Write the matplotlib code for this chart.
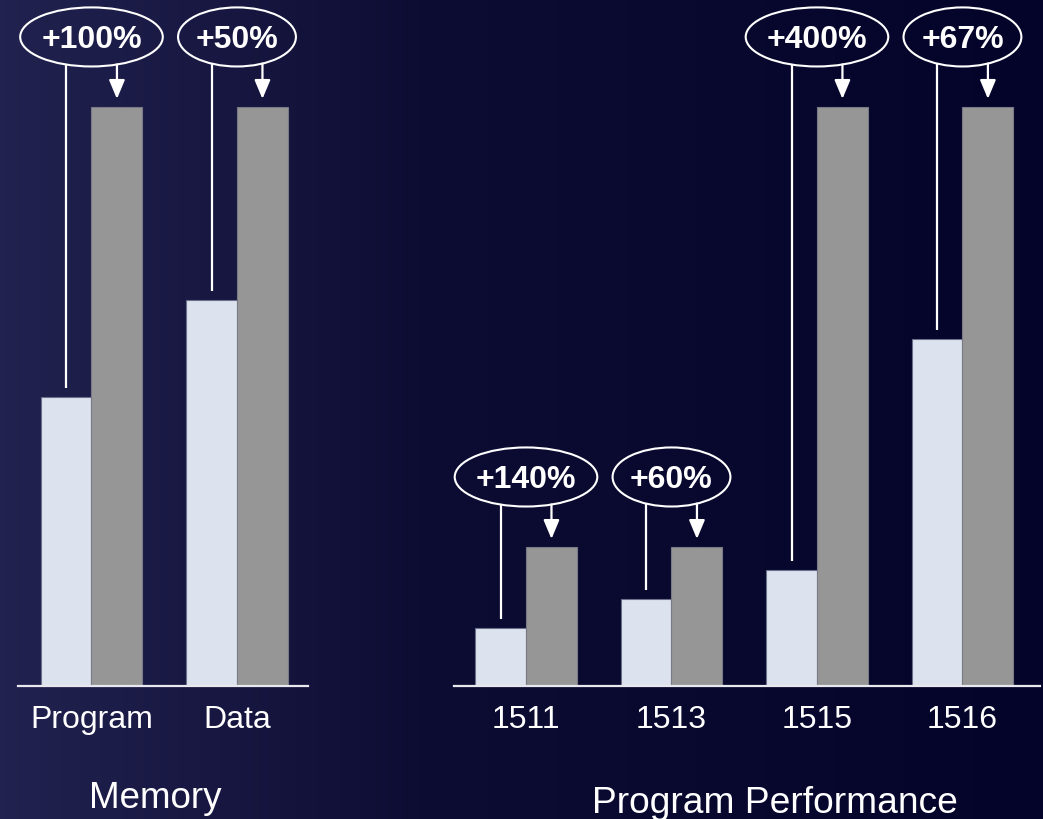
import numpy as np
import matplotlib.pyplot as plt
from matplotlib.patches import Ellipse
from matplotlib.colors import LinearSegmentedColormap


# DATA

mem_labels = ["Program", "Data"]
mem_before = [50, 66.7]
mem_after = [100, 100]
mem_gain = ["+100%", "+50%"]

perf_labels = ["1511", "1513", "1515", "1516"]
perf_before = [10, 15, 20, 60]
perf_after = [24, 24, 100, 100]
perf_gain = ["+140%", "+60%", "+400%", "+67%"]


# STYLE

W, H = 1043, 819
light = "#dde3ee"
gray = "#969696"
white = "#ffffff"
font = ["Liberation Sans", "DejaVu Sans"]
plt.rcParams["font.family"] = font

bar_w = 0.35
ytop = 686 / 579 * 100  # axes reach the top of the figure


def annotate_group(ax, x, before, after, label):
    # ellipse with the gain, plus a line to the old bar and an arrow to the new one
    h = 10.2
    w = 0.17 * len(label) + 0.13
    yc = after + 12.1
    ax.add_patch(Ellipse((x, yc), w, h, fill=False, edgecolor=white, lw=1.5,
                         clip_on=False))
    ax.text(x, yc - 0.6, label, ha="center", va="center", color=white,
            fontsize=23, fontweight="bold")
    dx = bar_w / 2
    yb = yc - h / 2 * np.sqrt(1 - (dx / (w / 2)) ** 2)
    ax.plot([x - dx, x - dx], [yb, before + 1.55], color=white, lw=1.6,
            solid_capstyle="butt", clip_on=False)
    ax.annotate("", xy=(x + dx, after + 1.4), xytext=(x + dx, yb),
                arrowprops=dict(arrowstyle="-|>,head_length=1.0,head_width=0.42",
                                mutation_scale=11.5, color=white, lw=1.6,
                                shrinkA=0, shrinkB=0),
                annotation_clip=False)


def panel(ax, labels, before, after, gains):
    xs = np.arange(len(labels))
    ax.bar(xs - bar_w / 2, before, bar_w, color=light, edgecolor="#6a6f8a", lw=0.8)
    ax.bar(xs + bar_w / 2, after, bar_w, color=gray, edgecolor="#7a7a86", lw=0.8)
    for x, b, a, g in zip(xs, before, after, gains):
        annotate_group(ax, x, b, a, g)
    ax.set_ylim(0, ytop)
    ax.set_facecolor("none")
    for s in ["top", "left", "right"]:
        ax.spines[s].set_visible(False)
    ax.spines["bottom"].set_color("#e8e8ee")
    ax.spines["bottom"].set_linewidth(1.6)
    ax.set_yticks([])
    ax.set_xticks(xs)
    ax.set_xticklabels(labels, fontsize=23, color=white)
    ax.tick_params(axis="x", length=0, pad=14)


fig = plt.figure(figsize=(W / 100, H / 100), dpi=100)

# background gradient
bg = fig.add_axes([0, 0, 1, 1])
cmap = LinearSegmentedColormap.from_list(
    "bg", [(0, "#222250"), (0.4, "#0d0d34"), (1, "#04042a")])
bg.imshow(np.linspace(0, 1, 256)[None, :], cmap=cmap, aspect="auto",
          extent=[0, 1, 0, 1])
bg.axis("off")

ax1 = fig.add_axes([18 / W, 133 / H, 290 / W, 686 / H])
ax1.set_xlim(-0.505, 1.488)
panel(ax1, mem_labels, mem_before, mem_after, mem_gain)

ax2 = fig.add_axes([454 / W, 133 / H, 586 / W, 686 / H])
ax2.set_xlim(-0.495, 3.533)
panel(ax2, perf_labels, perf_before, perf_after, perf_gain)

fig.text(155 / W, 1 - 808 / H, "Memory", ha="center", va="baseline",
         fontsize=26.5, color=white)
fig.text(775 / W, 1 - 813 / H, "Program Performance", ha="center",
         va="baseline", fontsize=26.7, color=white)

fig.savefig("out.png", dpi=100)
